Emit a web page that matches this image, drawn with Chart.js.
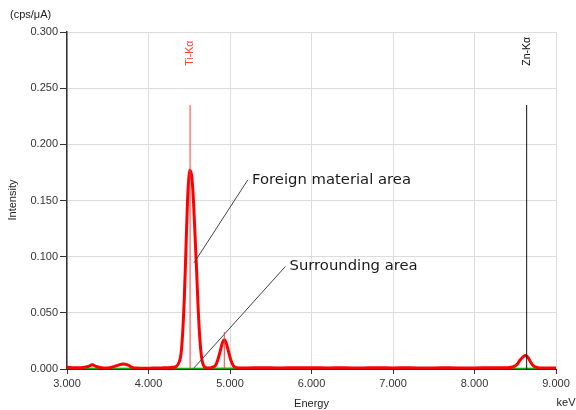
<!DOCTYPE html>
<html>
<head>
<meta charset="utf-8">
<script src="https://cdn.jsdelivr.net/npm/chart.js@4.4.0/dist/chart.umd.min.js"></script>
<style>
  body { margin: 0; background: #fff; }
  #wrap { width: 576px; height: 410px; }
</style>
</head>
<body>
<div id="wrap"><canvas id="chart" width="576" height="410"></canvas></div>
<script>
// spektrum area benda asing (merah)
const redEnergy = [3.00, 3.10, 3.20, 3.26, 3.31, 3.36, 3.42, 3.50, 3.56, 3.62, 3.69, 3.75, 3.80, 3.86, 3.95, 4.05, 4.15, 4.25,
  4.30, 4.34, 4.38, 4.40, 4.42, 4.44, 4.46, 4.48, 4.50, 4.51, 4.52, 4.53, 4.55, 4.57, 4.59, 4.61, 4.63, 4.65, 4.67, 4.70,
  4.74, 4.78, 4.82, 4.85, 4.88, 4.91, 4.93, 4.95, 4.98, 5.01, 5.04, 5.08,
  5.20, 5.40, 5.60, 5.80, 6.00, 6.20, 6.40, 6.60, 6.80, 7.00, 7.20, 7.40, 7.60, 7.80, 8.00, 8.20, 8.40,
  8.48, 8.52, 8.56, 8.60, 8.63, 8.66, 8.69, 8.72, 8.76, 8.80, 8.90, 9.00];
const redIntensity = [0.0015, 0.0012, 0.0014, 0.0022, 0.0038, 0.0022, 0.0012, 0.0010, 0.0018, 0.0032, 0.0045, 0.0035, 0.0015, 0.0008, 0.0006, 0.0008, 0.0010, 0.0012,
  0.0015, 0.0022, 0.007, 0.014, 0.033, 0.064, 0.108, 0.152, 0.174, 0.177, 0.175, 0.172, 0.152, 0.121, 0.088, 0.053, 0.027, 0.011, 0.004, 0.0012,
  0.0008, 0.0015, 0.003, 0.008, 0.016, 0.024, 0.026, 0.024, 0.016, 0.008, 0.003, 0.0012,
  0.0010, 0.0012, 0.0009, 0.0011, 0.0012, 0.0010, 0.0011, 0.0009, 0.0012, 0.0010, 0.0011, 0.0009, 0.0011, 0.0010, 0.0010, 0.0011, 0.0012,
  0.002, 0.004, 0.008, 0.011, 0.012, 0.010, 0.006, 0.003, 0.0015, 0.0010, 0.0010, 0.0010];

// spektrum area sekitar (hijau)
const greenEnergy = [3.00, 3.50, 4.00, 4.50, 5.00, 5.50, 6.00, 6.50, 7.00, 7.50, 8.00, 8.50, 9.00];
const greenIntensity = [0.0004, 0.0003, 0.0004, 0.0003, 0.0004, 0.0003, 0.0004, 0.0003, 0.0004, 0.0003, 0.0004, 0.0003, 0.0004];

// garis penanda unsur
const lineNames = ['Ti-Kα', 'Ti-Kβ', 'Zn-Kα'];
const lineEnergy = [4.51, 4.93, 8.64];
const lineHeight = [0.235, 0.033, 0.235];
const lineLabelShown = [true, false, true];

const xTicks = [3, 4, 5, 6, 7, 8, 9];
const yTicks = [0, 0.05, 0.1, 0.15, 0.2, 0.25, 0.3];

const toPts = (xs, ys) => xs.map((x, i) => ({ x: x, y: ys[i] }));
const lineColor = ['#ff3b3b', '#ff3b3b', '#111111'];

const datasets = [
  { data: toPts(redEnergy, redIntensity), borderColor: '#ff0000', borderWidth: 3, pointRadius: 0,
    cubicInterpolationMode: 'monotone', order: 1 },
  { data: toPts(greenEnergy, greenIntensity), borderColor: '#10b010', borderWidth: 2, pointRadius: 0, order: 2 }
];
lineEnergy.forEach((e, i) => {
  datasets.push({ data: [{ x: e, y: 0 }, { x: e, y: lineHeight[i] }], borderColor: lineColor[i],
    borderWidth: 1, pointRadius: 0, order: 0 });
});

// garis penunjuk keterangan
const callouts = [
  { text: 'Foreign material area', from: [5.22, 0.1685], to: [4.56, 0.0946], textAt: [5.27, 0.1685] },
  { text: 'Surrounding area', from: [5.68, 0.0913], to: [4.555, 0.0007], textAt: [5.73, 0.0913] }
];
callouts.forEach(c => {
  datasets.push({ data: [{ x: c.from[0], y: c.from[1] }, { x: c.to[0], y: c.to[1] }], borderColor: '#444',
    borderWidth: 1, pointRadius: 0, order: 0 });
});

const labelsPlugin = {
  id: 'labels',
  afterDraw(chart) {
    const ctx = chart.ctx, xs = chart.scales.x, ys = chart.scales.y;
    ctx.save();
    // label penanda unsur (vertikal)
    ctx.font = '10.5px "Liberation Sans", Arial, sans-serif';
    ctx.textBaseline = 'middle';
    ctx.textAlign = 'left';
    lineNames.forEach((n, i) => {
      if (!lineLabelShown[i]) return;
      ctx.save();
      ctx.translate(xs.getPixelForValue(lineEnergy[i]), ys.getPixelForValue(0.27));
      ctx.rotate(-Math.PI / 2);
      ctx.fillStyle = lineColor[i];
      ctx.fillText(n, 0, 0);
      ctx.restore();
    });
    // keterangan area
    ctx.font = '14.8px "DejaVu Sans", Verdana, sans-serif';
    ctx.fillStyle = '#1a1a1a';
    callouts.forEach(c => {
      ctx.fillText(c.text, xs.getPixelForValue(c.textAt[0]), ys.getPixelForValue(c.textAt[1]));
    });
    // judul sumbu
    ctx.font = '11px "Liberation Sans", Arial, sans-serif';
    ctx.fillStyle = '#222';
    ctx.fillText('(cps/μA)', 10, 15);
    ctx.textAlign = 'center';
    ctx.fillText('Energy', (xs.left + xs.right) / 2, 404);
    ctx.fillText('keV', 566, 403);
    ctx.save();
    ctx.translate(13, 200);
    ctx.rotate(-Math.PI / 2);
    ctx.fillText('Intensity', 0, 0);
    ctx.restore();
    ctx.restore();
  }
};

const tickFont = { family: '"Liberation Sans", Arial, sans-serif', size: 11 };

new Chart(document.getElementById('chart'), {
  type: 'line',
  data: { datasets: datasets },
  plugins: [labelsPlugin],
  options: {
    responsive: false,
    animation: false,
    layout: { padding: { top: 32, right: 20, left: 0, bottom: 0 } },
    plugins: { legend: { display: false }, tooltip: { enabled: false } },
    scales: {
      x: {
        type: 'linear', min: 3, max: 9,
        afterBuildTicks: s => { s.ticks = xTicks.map(v => ({ value: v })); },
        ticks: { callback: v => Number(v).toFixed(3), color: '#333', font: tickFont, padding: 3, maxRotation: 0 },
        grid: { color: '#dcdcdc', tickColor: '#333', tickLength: 5 },
        border: { color: '#333', width: 1 },
        afterFit: s => { s.height = 41; }
      },
      y: {
        min: 0, max: 0.3,
        afterBuildTicks: s => { s.ticks = yTicks.map(v => ({ value: v })); },
        ticks: { callback: v => Number(v).toFixed(3), color: '#333', font: tickFont, padding: 2 },
        grid: { color: '#dcdcdc', tickColor: '#333', tickLength: 7 },
        border: { color: '#333', width: 1.5 },
        afterFit: s => { s.width = 67; }
      }
    }
  }
});
</script>
</body>
</html>
